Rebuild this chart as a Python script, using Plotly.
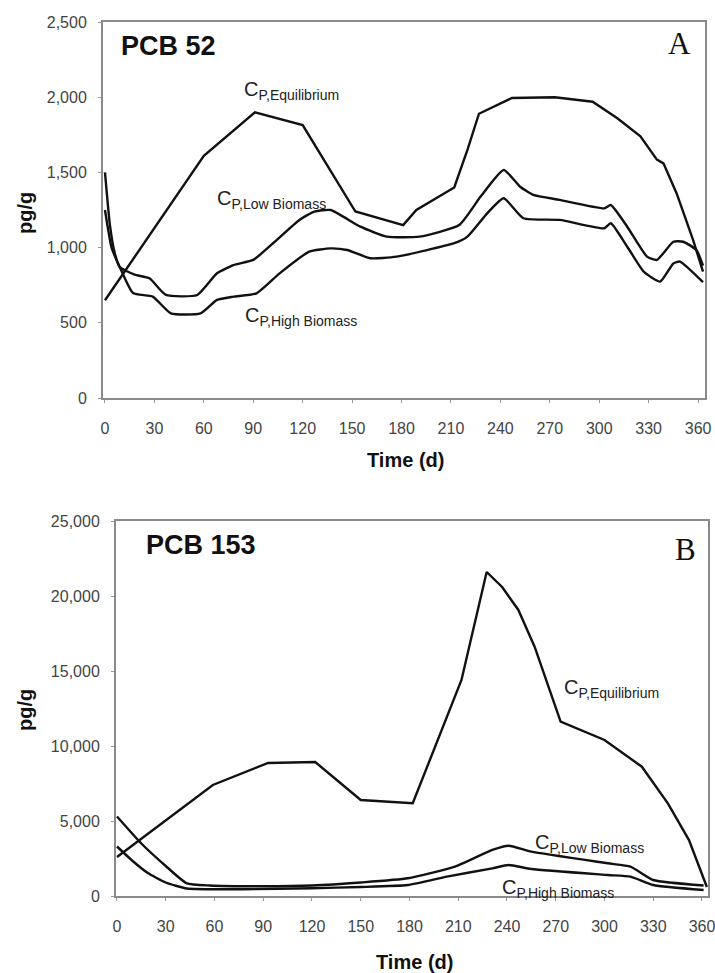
import plotly.graph_objects as go

W, H = 715, 973

# ---------------- Panel A : PCB 52 ----------------
a_eq_days = [0, 60, 91, 120, 152, 181, 189, 212, 220, 227, 247, 273, 296, 311, 325, 335, 339, 347, 357, 363]
a_eq_vals = [650, 1610, 1900, 1815, 1240, 1150, 1250, 1400, 1650, 1890, 1995, 2000, 1970, 1860, 1740, 1585, 1560, 1360, 1050, 840]

a_low_days = [0, 3, 6, 9, 18, 27, 37, 56, 68, 78, 90, 102, 118, 127, 137, 155, 171, 191, 215, 228, 242, 252, 260, 276, 303, 307, 317, 329, 335, 345, 351, 359, 363]
a_low_vals = [1500, 1150, 960, 870, 820, 796, 685, 685, 829, 884, 918, 1029, 1184, 1239, 1250, 1139, 1073, 1073, 1150, 1339, 1516, 1405, 1350, 1317, 1261, 1283, 1139, 940, 918, 1039, 1039, 984, 880]

a_high_days = [0, 4, 9, 17, 29, 40, 58, 68, 78, 92, 106, 124, 137, 147, 161, 177, 212, 220, 232, 242, 254, 276, 303, 307, 317, 327, 337, 345, 349, 363]
a_high_vals = [1250, 1000, 870, 698, 674, 563, 563, 652, 674, 696, 829, 973, 995, 984, 929, 940, 1029, 1073, 1228, 1328, 1195, 1184, 1128, 1162, 1006, 840, 774, 895, 907, 770]

# ---------------- Panel B : PCB 153 ----------------
b_eq_days = [0, 59, 93, 122, 150, 182, 212, 227.5, 237, 247, 257, 273, 300, 323, 339, 352, 363]
b_eq_vals = [2600, 7400, 8870, 8930, 6400, 6180, 14400, 21600, 20600, 19070, 16620, 11620, 10400, 8620, 6180, 3730, 600]

b_low_days = [0, 15, 30, 43, 57, 90, 120, 150, 179, 208, 231, 241, 255, 302, 316, 330, 361]
b_low_vals = [5300, 3500, 2000, 840, 700, 650, 700, 900, 1180, 1955, 3070, 3350, 2955, 2180, 1955, 1067, 700]

b_high_days = [0, 10, 19, 30, 43, 78, 120, 150, 179, 203, 231, 241, 255, 302, 316, 330, 361]
b_high_vals = [3300, 2300, 1530, 900, 500, 450, 520, 600, 733, 1290, 1844, 2067, 1800, 1400, 1289, 733, 400]

x_ticks = list(range(0, 361, 30))
a_y_ticks = [0, 500, 1000, 1500, 2000, 2500]
b_y_ticks = [0, 5000, 10000, 15000, 20000, 25000]

LINE = dict(color="#111111", width=2.4)

fig = go.Figure()
fig.add_trace(go.Scatter(x=a_eq_days, y=a_eq_vals, mode="lines", line=LINE, xaxis="x", yaxis="y"))
fig.add_trace(go.Scatter(x=a_low_days, y=a_low_vals, mode="lines", line=dict(LINE, shape="spline", smoothing=0.5), xaxis="x", yaxis="y"))
fig.add_trace(go.Scatter(x=a_high_days, y=a_high_vals, mode="lines", line=dict(LINE, shape="spline", smoothing=0.5), xaxis="x", yaxis="y"))
fig.add_trace(go.Scatter(x=b_eq_days, y=b_eq_vals, mode="lines", line=LINE, xaxis="x2", yaxis="y2"))
fig.add_trace(go.Scatter(x=b_low_days, y=b_low_vals, mode="lines", line=dict(LINE, shape="spline", smoothing=0.5), xaxis="x2", yaxis="y2"))
fig.add_trace(go.Scatter(x=b_high_days, y=b_high_vals, mode="lines", line=dict(LINE, shape="spline", smoothing=0.5), xaxis="x2", yaxis="y2"))

tickfont = dict(family="Liberation Sans, Arial", size=16, color="#444444")
common_x = dict(tickmode="array", tickvals=x_ticks, ticks="outside", ticklen=3, tickcolor="#999999",
                ticklabelstandoff=12, ticklabeloverflow="allow", showgrid=False, zeroline=False,
                showline=True, linecolor="#8a8a8a", linewidth=2, mirror=True, tickfont=tickfont,
                automargin=False)
common_y = dict(ticks="outside", ticklen=3, tickcolor="#999999", ticklabelstandoff=8, tickformat=",",
                showgrid=False, zeroline=False, showline=True, linecolor="#8a8a8a", linewidth=2,
                mirror=True, tickfont=tickfont, automargin=False)

fig.update_layout(
    width=W, height=H, margin=dict(l=0, r=0, t=0, b=0),
    paper_bgcolor="white", plot_bgcolor="white", showlegend=False,
    xaxis=dict(common_x, domain=[103 / W, 705 / W], anchor="y", range=[-1.2, 364.2]),
    yaxis=dict(common_y, domain=[1 - 398 / H, 1 - 22 / H], anchor="x", range=[0, 2500],
               tickmode="array", tickvals=a_y_ticks),
    xaxis2=dict(common_x, domain=[116 / W, 708 / W], anchor="y2", range=[-0.6, 363.7]),
    yaxis2=dict(common_y, domain=[1 - 896 / H, 1 - 521 / H], anchor="x2", range=[0, 25000],
                tickmode="array", tickvals=b_y_ticks),
)

def px(x):
    return x / W

def py(y):
    return 1 - y / H

bold = dict(family="Liberation Sans, Arial", color="#111111")
ann = []
# panel titles
ann.append(dict(text="<b>PCB 52</b>", x=px(119), y=py(46), xanchor="left", yanchor="middle", font=dict(bold, size=27)))
ann.append(dict(text="<b>PCB 153</b>", x=px(144), y=py(545), xanchor="left", yanchor="middle", font=dict(bold, size=27)))
ann.append(dict(text="A", x=px(693), y=py(44), xanchor="right", yanchor="middle",
                font=dict(family="Liberation Serif, Times New Roman", size=31, color="#111111")))
ann.append(dict(text="B", x=px(698), y=py(549), xanchor="right", yanchor="middle",
                font=dict(family="Liberation Serif, Times New Roman", size=31, color="#111111")))
# axis titles
for (xx, yy) in [(405, 460), (414, 962)]:
    ann.append(dict(text="<b>Time (d)</b>", x=px(xx), y=py(yy), xanchor="center", yanchor="middle", font=dict(bold, size=20)))
for yy in [213, 710]:
    ann.append(dict(text="<b>pg/g</b>", x=px(25), y=py(yy), xanchor="center", yanchor="middle", textangle=-90, font=dict(bold, size=20)))

# curve labels
lab_font = dict(family="Liberation Sans, Arial", size=20, color="#222222")
curve_labels = [
    (242, 90, "C<sub>P,Equilibrium</sub>"),
    (215, 199, "C<sub>P,Low Biomass</sub>"),
    (243, 316, "C<sub>P,High Biomass</sub>"),
    (562, 688, "C<sub>P,Equilibrium</sub>"),
    (533, 843, "C<sub>P,Low Biomass</sub>"),
    (500, 888, "C<sub>P,High Biomass</sub>"),
]
for xx, yy, t in curve_labels:
    ann.append(dict(text=t, x=px(xx), y=py(yy), xanchor="left", yanchor="middle", font=lab_font))

for a in ann:
    a.update(xref="paper", yref="paper", showarrow=False)
fig.update_layout(annotations=ann)

fig.write_html("out.html")
